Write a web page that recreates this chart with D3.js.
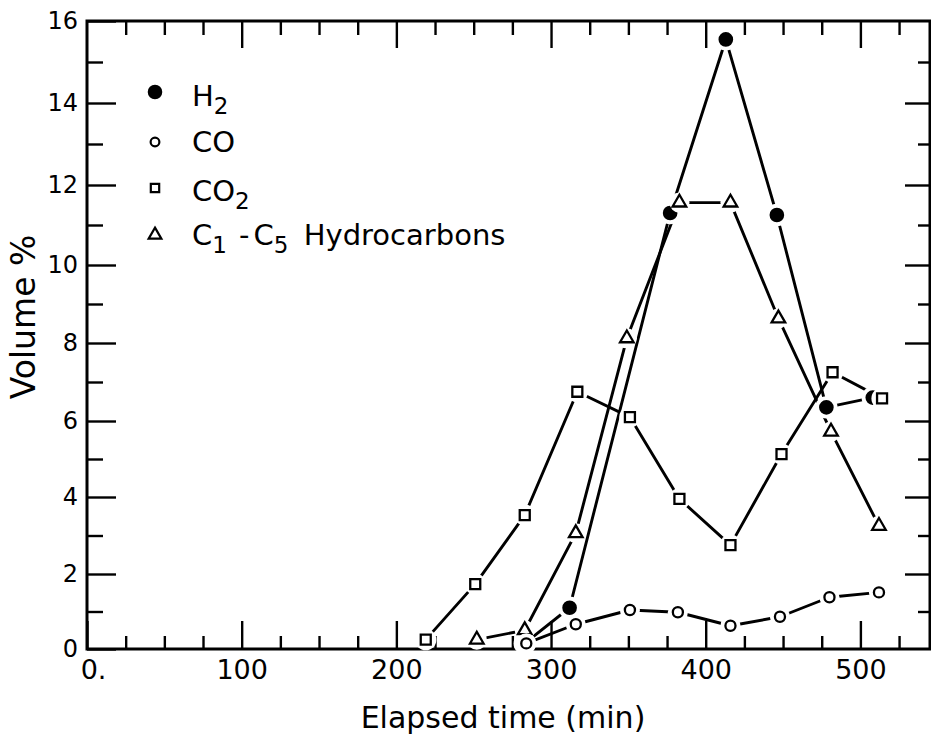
<!DOCTYPE html>
<html><head><meta charset="utf-8">
<script src="https://cdn.jsdelivr.net/npm/d3@7"></script>
<style>
body{margin:0;background:#fff}
svg{display:block}
text{font-family:"DejaVu Sans",sans-serif;fill:#000}
</style>
</head><body>
<svg id="c" width="931" height="734"></svg>
<script>
// ---- data ----
const h2Time  = [283, 312, 377, 413, 446, 478, 508];
const h2Vol   = [0.15, 1.1, 11.3, 15.55, 11.25, 6.35, 6.6];
const coTime  = [284, 316, 351, 382, 416, 448, 480, 512];
const coVol   = [0.15, 0.66, 1.04, 0.98, 0.62, 0.86, 1.38, 1.51];
const co2Time = [219, 251, 283, 317, 351, 383, 416, 449, 482, 514];
const co2Vol  = [0.25, 1.73, 3.53, 6.75, 6.1, 3.95, 2.75, 5.13, 7.25, 6.58];
const hcTime  = [252, 283, 316, 349, 383, 416, 447, 481, 512];
const hcVol   = [0.25, 0.5, 3.06, 8.12, 11.56, 11.56, 8.63, 5.72, 3.25];
const xMajorTicks = [0, 100, 200, 300, 400, 500];
const xTickLabels = ["0.", "100", "200", "300", "400", "500"];
const yMajorTicks = [0, 2, 4, 6, 8, 10, 12, 14, 16];
const yTickLabels = ["0", "2", "4", "6", "8", "10", "12", "14", "16"];
const xTitle = "Elapsed time (min)";
const yTitle = "Volume %";

const svg = d3.select("#c");
const x = d3.scaleLinear().domain([0, 545]).range([87, 930]);
// scanned figure's vertical axis is slightly non-uniform; piecewise-linear scale follows its tick positions
const y = d3.scaleLinear().domain(yMajorTicks).range([649, 574, 497, 421, 343, 265, 185, 103, 21]);

const xMinor = d3.range(0, 545, 25).filter(v => v % 100 !== 0);
const yMinor = d3.range(1, 16, 2);

function styleAxis(g, sw) {
  g.select(".domain").remove();
  g.selectAll(".tick line").attr("stroke", "#000").attr("stroke-width", sw);
}
const [L, R, T, B] = [87, 930, 21, 649];

// bottom
svg.append("g").attr("transform", `translate(0,${B})`)
  .call(d3.axisBottom(x).tickValues(xMinor).tickSizeInner(-13).tickSizeOuter(0).tickFormat(""))
  .call(g => styleAxis(g, 2.4));
svg.append("g").attr("transform", `translate(0,${B})`)
  .call(d3.axisBottom(x).tickValues(xMajorTicks).tickSizeInner(-28).tickSizeOuter(0).tickPadding(11)
    .tickFormat((d, i) => xTickLabels[i]))
  .call(g => styleAxis(g, 2.4))
  .call(g => g.selectAll("text").attr("font-size", 27).attr("font-family", "DejaVu Sans")
     .attr("dx", (d) => d === 0 ? 6 : 0));
// top
svg.append("g").attr("transform", `translate(0,${T})`)
  .call(d3.axisTop(x).tickValues(xMinor).tickSizeInner(-14).tickSizeOuter(0).tickFormat(""))
  .call(g => styleAxis(g, 2.4));
svg.append("g").attr("transform", `translate(0,${T})`)
  .call(d3.axisTop(x).tickValues(xMajorTicks.filter(v => v > 0)).tickSizeInner(-27).tickSizeOuter(0).tickFormat(""))
  .call(g => styleAxis(g, 2.4));
// left
svg.append("g").attr("transform", `translate(${L},0)`)
  .call(d3.axisLeft(y).tickValues(yMinor).tickSizeInner(-16).tickSizeOuter(0).tickFormat(""))
  .call(g => styleAxis(g, 2.4));
svg.append("g").attr("transform", `translate(${L},0)`)
  .call(d3.axisLeft(y).tickValues(yMajorTicks).tickSizeInner(-29).tickSizeOuter(0).tickPadding(9)
    .tickFormat((d, i) => yTickLabels[i]))
  .call(g => styleAxis(g, 2.4))
  .call(g => g.selectAll("text").attr("font-size", 24).attr("font-family", "DejaVu Sans"));
// right
svg.append("g").attr("transform", `translate(${R},0)`)
  .call(d3.axisRight(y).tickValues(yMinor).tickSizeInner(-12).tickSizeOuter(0).tickFormat(""))
  .call(g => styleAxis(g, 2.4));
svg.append("g").attr("transform", `translate(${R},0)`)
  .call(d3.axisRight(y).tickValues(yMajorTicks.filter(v => v > 0 && v < 16)).tickSizeInner(-25).tickSizeOuter(0).tickFormat(""))
  .call(g => styleAxis(g, 2.4));

// frame
svg.append("path")
  .attr("d", `M${L},${T}H${R}V${B}H${L}Z`)
  .attr("fill", "none").attr("stroke", "#000").attr("stroke-width", 3);

// series
const series = [
  {name: "H2", t: h2Time, v: h2Vol, sym: d3.symbolCircle, size: 120, fill: "#000"},
  {name: "CO2", t: co2Time, v: co2Vol, sym: d3.symbolSquare, size: 100, fill: "#fff"},
  {name: "HC", t: hcTime, v: hcVol, sym: d3.symbolTriangle, size: 80, fill: "#fff"},
  {name: "CO", t: coTime, v: coVol, sym: d3.symbolCircle, size: 80, fill: "#fff"}
];
const line = d3.line().x(d => x(d[0])).y(d => y(d[1]));
series.forEach(s => {
  svg.append("path").datum(d3.zip(s.t, s.v)).attr("d", line)
    .attr("fill", "none").attr("stroke", "#000").attr("stroke-width", 2.9)
    .attr("stroke-linejoin", "round");
});
series.forEach(s => {
  const pts = d3.zip(s.t, s.v);
  svg.append("g").selectAll("circle").data(pts).join("circle")
    .attr("cx", d => x(d[0])).attr("cy", d => y(d[1]))
    .attr("r", Math.sqrt(s.size / Math.PI) + 5).attr("fill", "#fff");
  svg.append("g").selectAll("path").data(pts).join("path")
    .attr("transform", d => `translate(${x(d[0])},${y(d[1])})`)
    .attr("d", d3.symbol(s.sym, s.size))
    .attr("fill", s.fill).attr("stroke", "#000").attr("stroke-width", 2.3);
});

// legend
const legRows = [
  {sym: d3.symbolCircle, size: 120, fill: "#000", my: 92, by: 106, parts: [["H"], ["2", "sub"]]},
  {sym: d3.symbolCircle, size: 60, fill: "#fff", my: 142, by: 152, parts: [["CO"]]},
  {sym: d3.symbolSquare, size: 70, fill: "#fff", my: 188, by: 201, parts: [["CO"], ["2", "sub"]]},
  {sym: d3.symbolTriangle, size: 70, fill: "#fff", my: 235, by: 245,
   parts: [["C"], ["1", "sub"], [" -", null, 3], ["C", null, 4], ["5", "sub"], [" Hydrocarbons", null, 6]]}
];
legRows.forEach(r => {
  svg.append("path").attr("transform", `translate(155,${r.my})`)
    .attr("d", d3.symbol(r.sym, r.size)).attr("fill", r.fill)
    .attr("stroke", "#000").attr("stroke-width", 2.2);
  const t = svg.append("text").attr("x", 192).attr("y", r.by).attr("font-size", 29);
  let sub = false;
  r.parts.forEach(p => {
    const ts = t.append("tspan").text(p[0]);
    let dy = 0;
    if (p[1] === "sub" && !sub) { dy = 8; sub = true; ts.attr("font-size", 23); }
    else if (p[1] !== "sub" && sub) { dy = -8; sub = false; }
    else if (p[1] === "sub") ts.attr("font-size", 23);
    if (dy) ts.attr("dy", dy);
    if (p[2]) ts.attr("dx", p[2]);
  });
});

// axis titles
svg.append("text").attr("x", 503).attr("y", 728).attr("text-anchor", "middle")
  .attr("font-size", 30).text(xTitle);
svg.append("text").attr("transform", "translate(35,317) rotate(-90)").attr("text-anchor", "middle")
  .attr("font-size", 33).text(yTitle);
</script>
</body></html>
